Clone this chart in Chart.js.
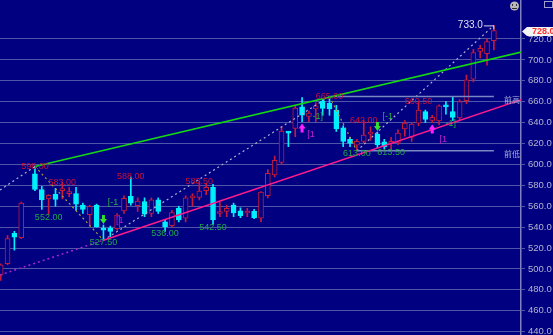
<!DOCTYPE html>
<html>
<head>
<meta charset="utf-8">
<script src="https://cdn.jsdelivr.net/npm/chart.js@4.4.1/dist/chart.umd.min.js"></script>
<style>
html, body { margin: 0; padding: 0; background: #000080; }
#wrap { width: 553px; height: 335px; position: relative; }
</style>
</head>
<body>
<div id="wrap"><canvas id="chart"></canvas></div>
<script>
// candle values, one per bar (index 4 has no bar)
const opens  = [494, 505, 534, 530, null, 591, 576, 567, 571.5, 575, 572, 572, 561, 552, 561, 539, 539, 538.5, 555.5, 569.5,
                560.5, 564.5, 553, 566, 545, 541.5, 558, 548.5, 568, 568.5, 575, 578, 553, 555, 561, 555.5, 553.5, 555, 548.5, 570,
                590, 602, 631, 634.5, 655, 646, 653, 660.5, 658.5, 652, 635, 624, 618.5, 622, 629, 629, 621.5, 620, 621, 634,
                626, 639.5, 650.5, 642, 641.5, 656, 650.5, 644.5, 661, 681.5, 708, 706, 718.5];
const highs  = [505, 532, 536, 564, null, 598, 579, 571, 577, 583, 578, 578, 563, 561, 562, 542, 541, 553, 570, 588,
                568, 568, 568, 568, 547, 556, 560, 570, 572, 583.5, 582, 581, 564, 561, 563, 558.5, 558, 557, 574, 595,
                608, 636, 631.5, 656, 664, 651, 659, 663, 665, 656.5, 637, 626, 624, 642, 636, 631, 624, 626, 633, 642,
                640, 660.5, 652, 647, 657, 660, 665, 662, 685.5, 710, 714, 720, 733];
const lows   = [489, 504, 518, 529, null, 575, 557, 552, 560, 567, 569, 556, 553, 541, 540, 527.5, 531, 537, 553, 561,
                555, 550, 550, 553, 536, 540, 545, 545, 560, 566, 571, 542.5, 550, 550, 550, 549, 550, 548, 545, 568,
                588, 600, 617, 626.5, 641, 641, 641, 647, 647, 631.5, 617, 617, 613, 620, 623, 616, 615, 613.5, 619, 627,
                622, 637, 640, 640, 638, 648, 642, 642, 658, 679, 702, 695, 709.5];
const closes = [504, 529, 530.5, 563, null, 576, 566, 570.5, 566.5, 577, 573, 562, 557, 560, 540.5, 537, 536, 551.5, 567.5, 563,
                565, 552.5, 566, 555, 540.5, 554, 547, 568, 569, 574.5, 578, 547, 554, 558, 553.5, 551, 554.5, 549, 573.5, 591.5,
                604, 632, 630, 654, 647, 649, 656, 653.5, 653, 634, 622, 620, 622, 628, 630.5, 619, 617, 622, 630, 639.5,
                638.5, 652, 643, 645, 656, 655, 645, 660, 681, 707, 711, 717.5, 728];

// swing points that carry a price label
const highMarks = [5, 9, 19, 29, 48, 53, 61];
const lowMarks = [7, 15, 24, 31, 52, 57];
const downArrows = [15, 55];
const upArrows = [44, 63];

// drawn lines, as [bar index, price]
const greenLine = [[5, 598], [76, 707.5]];
const pinkLine = [[15, 527.5], [76, 662]];
const pinkBack = [[-0.1, 494.2], [15, 527.5]];
const zigUp = [[[-0.1, 575.5], [5, 598]], [[15, 527.5], [48, 665]], [[52, 613], [72, 733]]];
const zigDown = [[[5, 598], [15, 527.5]], [[48, 665], [52, 613]]];
const prevHigh = 665;
const prevLow = 613;

// small signal tags, as [bar index, price, text]
const greenTags = [[16.4, 564, '[-1'], [46.3, 645.4, '-1]'], [56.5, 645.4, '[-1'], [65.7, 639.6, '-1]']];
const pinkTags = [[17.4, 545.9, '[1'], [45.3, 628.2, '[1'], [64.6, 624.3, '[1']];

const yTicks = [440, 460, 480, 500, 520, 540, 560, 580, 600, 620, 640, 660, 680, 700, 720];

const RED = '#c81a3a';
const CYAN = '#00f0ff';
const NAVY = '#000080';

const bars = opens.map((o, i) => i).filter(i => opens[i] !== null);
const bodies = bars.map(i => ({ x: i, y: [opens[i], closes[i]] }));
const wicks = bars.map(i => ({ x: i, y: [lows[i], highs[i]] }));
const isUp = i => closes[i] >= opens[i];

function seg(points) {
    return points.map(p => ({ x: p[0], y: p[1] }));
}

function lineSet(points, color, dash, width) {
    return {
        type: 'line',
        data: seg(points),
        borderColor: color,
        borderWidth: width || 1.5,
        borderDash: dash || [],
        pointRadius: 0,
        fill: false,
        order: 0
    };
}

const datasets = [
    {
        data: wicks,
        backgroundColor: bars.map(i => isUp(i) ? RED : CYAN),
        borderWidth: 0,
        barThickness: 1,
        grouped: false,
        order: 3
    },
    {
        data: bodies,
        backgroundColor: bars.map(i => isUp(i) ? NAVY : CYAN),
        borderColor: bars.map(i => isUp(i) ? RED : CYAN),
        borderWidth: 1,
        borderSkipped: false,
        barThickness: 5,
        minBarLength: 2,
        grouped: false,
        order: 2
    },
    lineSet(greenLine, '#14d814'),
    lineSet(pinkLine, '#ff1a8c'),
    lineSet(pinkBack, '#a828c8', [2, 3]),
    lineSet([[48, prevHigh], [72, prevHigh]], '#7888c0'),
    lineSet([[52, prevLow], [72, prevLow]], '#7888c0')
];
zigUp.forEach(p => datasets.push(lineSet(p, '#b0b0d0', [2, 3], 1.2)));
zigDown.forEach(p => datasets.push(lineSet(p, '#a8a040', [2, 3], 1.2)));

const background = {
    id: 'background',
    beforeDraw(chart) {
        const ctx = chart.ctx;
        ctx.save();
        ctx.fillStyle = NAVY;
        ctx.fillRect(0, 0, chart.width, chart.height);
        ctx.restore();
    }
};

const marks = {
    id: 'marks',
    afterDatasetsDraw(chart) {
        const { ctx, scales: { x, y }, chartArea } = chart;
        ctx.save();
        ctx.textAlign = 'center';
        ctx.textBaseline = 'middle';
        ctx.font = '9px "Liberation Sans Narrow", "Liberation Sans", sans-serif';

        ctx.fillStyle = '#c8103a';
        highMarks.forEach(i => {
            ctx.fillText(highs[i].toFixed(2), x.getPixelForValue(i), y.getPixelForValue(highs[i]));
        });
        ctx.fillStyle = '#20a848';
        lowMarks.forEach(i => {
            ctx.fillText(lows[i].toFixed(2), x.getPixelForValue(i), y.getPixelForValue(lows[i]) + 2.5);
        });

        greenTags.forEach(t => {
            ctx.fillStyle = '#20b840';
            ctx.fillText(t[2], x.getPixelForValue(t[0]), y.getPixelForValue(t[1]));
        });
        pinkTags.forEach(t => {
            ctx.fillStyle = '#c020d0';
            ctx.fillText(t[2], x.getPixelForValue(t[0]), y.getPixelForValue(t[1]));
        });

        // signal arrows
        downArrows.forEach(i => {
            const px = x.getPixelForValue(i);
            const tip = y.getPixelForValue(highs[i]) - 1;
            ctx.fillStyle = '#30e030';
            ctx.beginPath();
            ctx.moveTo(px - 1.5, tip - 9);
            ctx.lineTo(px + 1.5, tip - 9);
            ctx.lineTo(px + 1.5, tip - 5);
            ctx.lineTo(px + 3.5, tip - 5);
            ctx.lineTo(px, tip);
            ctx.lineTo(px - 3.5, tip - 5);
            ctx.lineTo(px - 1.5, tip - 5);
            ctx.closePath();
            ctx.fill();
        });
        upArrows.forEach(i => {
            const px = x.getPixelForValue(i);
            const tip = y.getPixelForValue(lows[i]) + 2;
            ctx.fillStyle = '#ff20ff';
            ctx.beginPath();
            ctx.moveTo(px - 1.5, tip + 9);
            ctx.lineTo(px + 1.5, tip + 9);
            ctx.lineTo(px + 1.5, tip + 5);
            ctx.lineTo(px + 3.5, tip + 5);
            ctx.lineTo(px, tip);
            ctx.lineTo(px - 3.5, tip + 5);
            ctx.lineTo(px - 1.5, tip + 5);
            ctx.closePath();
            ctx.fill();
        });

        // top price of the last swing
        const last = highs.length - 1;
        const hx = x.getPixelForValue(last);
        const hy = y.getPixelForValue(highs[last]);
        ctx.strokeStyle = '#d8d8e8';
        ctx.lineWidth = 1;
        ctx.beginPath();
        ctx.moveTo(hx - 10, hy + 0.5);
        ctx.lineTo(hx, hy + 0.5);
        ctx.lineTo(hx, hy + 4);
        ctx.stroke();
        ctx.fillStyle = '#e0e0f0';
        ctx.textAlign = 'right';
        ctx.font = '10px "Liberation Sans", sans-serif';
        ctx.fillText(highs[last].toFixed(1), hx - 11, hy);

        // prior high / low names
        ctx.fillStyle = '#a8b0d8';
        ctx.font = '8px "Noto Sans CJK SC", sans-serif';
        ctx.fillText('前高', chartArea.right - 1, y.getPixelForValue(prevHigh) + 3);
        ctx.fillText('前低', chartArea.right - 1, y.getPixelForValue(prevLow) + 3);
        ctx.restore();
    },
    afterDraw(chart) {
        const { ctx, scales: { y }, chartArea } = chart;
        const last = closes.length - 1;
        const cy = Math.round(y.getPixelForValue(closes[last])) + 0.5;
        const left = chartArea.right + 1;
        ctx.save();
        ctx.fillStyle = '#f4f4f4';
        ctx.beginPath();
        ctx.moveTo(left, cy);
        ctx.lineTo(left + 5, cy - 4.5);
        ctx.lineTo(chart.width, cy - 4.5);
        ctx.lineTo(chart.width, cy + 4.5);
        ctx.lineTo(left + 5, cy + 4.5);
        ctx.closePath();
        ctx.fill();
        ctx.fillStyle = '#ff3030';
        ctx.font = 'bold 9px "Liberation Sans", sans-serif';
        ctx.textAlign = 'left';
        ctx.textBaseline = 'middle';
        ctx.fillText(closes[last].toFixed(1), left + 10, cy);

        // small face and box at the top right
        ctx.fillStyle = '#b8b8b8';
        ctx.beginPath();
        ctx.arc(514.5, 6, 4.5, 0, Math.PI * 2);
        ctx.fill();
        ctx.fillStyle = '#303030';
        ctx.fillRect(512, 4, 1, 2);
        ctx.fillRect(516, 4, 1, 2);
        ctx.fillRect(512, 8, 5, 1);
        ctx.strokeStyle = '#a0a0d0';
        ctx.strokeRect(544.5, 1.5, 8, 6);
        ctx.restore();
    }
};

new Chart(document.getElementById('chart'), {
    type: 'bar',
    data: { datasets: datasets },
    options: {
        responsive: true,
        maintainAspectRatio: false,
        animation: false,
        layout: { padding: 0 },
        plugins: {
            legend: { display: false },
            tooltip: { enabled: false }
        },
        scales: {
            x: {
                type: 'linear',
                min: -0.1,
                max: 75.96,
                offset: false,
                display: false
            },
            y: {
                position: 'right',
                min: 436.8,
                max: 757.3,
                afterBuildTicks: scale => {
                    scale.ticks = yTicks.map(v => ({ value: v }));
                },
                afterFit: scale => {
                    scale.width = 32;
                    scale.paddingTop = 0;
                    scale.paddingBottom = 0;
                },
                border: { display: true, color: '#8080c0', width: 1.5 },
                grid: { color: '#4e56a8', lineWidth: 1, tickLength: 4 },
                ticks: {
                    color: '#b4b4d0',
                    padding: 3,
                    font: { family: '"Liberation Sans", Arial, sans-serif', size: 9.5 },
                    callback: v => v.toFixed(1)
                }
            }
        }
    },
    plugins: [background, marks]
});
</script>
</body>
</html>
